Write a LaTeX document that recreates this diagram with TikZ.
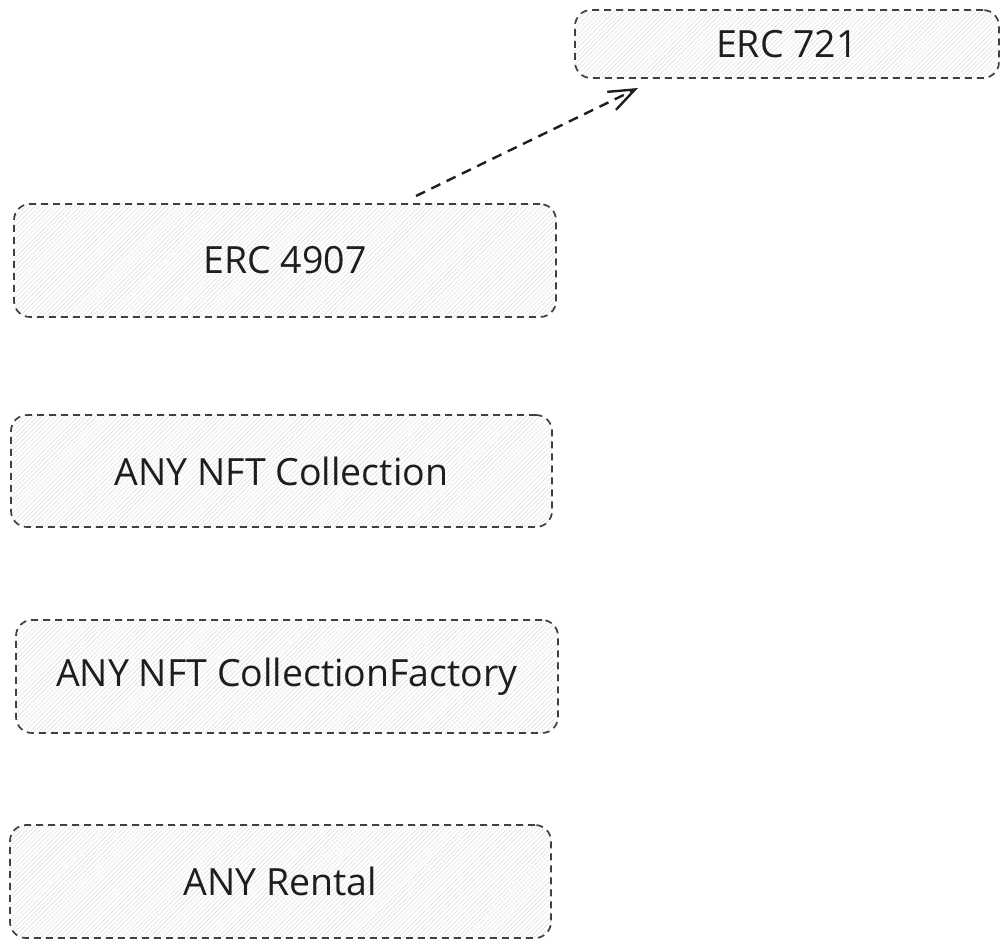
\documentclass[tikz,border=0pt]{standalone}
\usepackage{fontspec}
\setmainfont{Open Sans}
\usetikzlibrary{patterns.meta,arrows.meta}
\definecolor{ink}{HTML}{1E1E1E}
\tikzset{
  box/.style={draw=ink!85, line width=1.7pt, dash pattern=on 7pt off 5pt, rounded corners=16pt,
    pattern={Lines[angle=45,distance=3.2pt,line width=0.45pt]}, pattern color=gray!30,
    font=\fontsize{37.5}{42}\selectfont, text=ink, inner sep=0pt},
  link/.style={draw=ink, line width=2.4pt, dash pattern=on 10pt off 7pt,
    -{Straight Barb[length=26pt,width=20pt,line width=2.4pt]}}
}
\begin{document}
\begin{tikzpicture}[x=1pt,y=-1pt]
\useasboundingbox (0,0) rectangle (1008,947);
\node[box, minimum width=424pt, minimum height=68pt] (erc721) at (787,44) {ERC 721};
\node[box, minimum width=542pt, minimum height=113pt] (erc4907) at (285,260.5) {ERC 4907};
\node[box, minimum width=541pt, minimum height=112pt] (coll) at (281.5,471) {ANY NFT Collection};
\node[box, minimum width=542pt, minimum height=113pt] (fact) at (287,676.5) {ANY NFT CollectionFactory};
\node[box, minimum width=541pt, minimum height=113pt] (rent) at (280.5,881.5) {ANY Rental};
\coordinate (s) at (416,196);
\coordinate (e) at (638,88);
\draw[link] (s) -- (e);
\end{tikzpicture}
\end{document}
